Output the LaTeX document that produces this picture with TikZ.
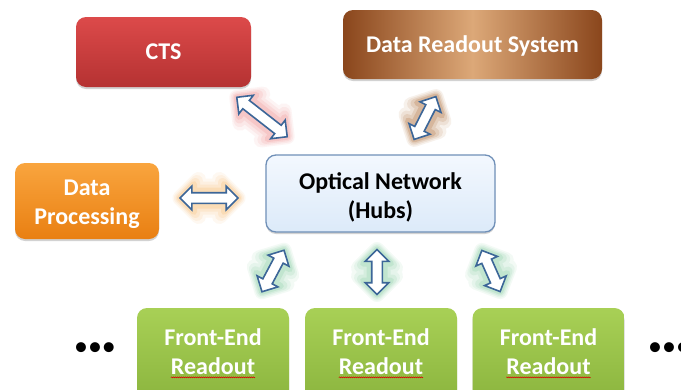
\documentclass[tikz,border=0pt]{standalone}
\usepackage{fontspec}
\setmainfont{Carlito}
\usetikzlibrary{shapes.arrows,shadows,decorations.pathmorphing}

\definecolor{ctsTop}{HTML}{DC4A4A}
\definecolor{ctsBot}{HTML}{B53232}
\definecolor{drsEdge}{HTML}{8A461C}
\definecolor{drsMid}{HTML}{DCA878}
\definecolor{dpTop}{HTML}{F9A53E}
\definecolor{dpBot}{HTML}{E97F12}
\definecolor{onTop}{HTML}{F3F8FE}
\definecolor{onBot}{HTML}{DCEAF9}
\definecolor{onLine}{HTML}{7090B8}
\definecolor{feTop}{HTML}{A8D056}
\definecolor{feBot}{HTML}{86B03A}
\definecolor{arrLine}{HTML}{3C6698}
\definecolor{glowRed}{HTML}{EE8A8A}
\definecolor{glowBrown}{HTML}{A8642C}
\definecolor{glowOrange}{HTML}{F7B565}
\definecolor{glowGreen}{HTML}{7CCB9A}

\tikzset{
  box/.style={rounded corners=10pt, inner sep=0pt, align=center, text=white,
    drop shadow={opacity=0.35, shadow xshift=0pt, shadow yshift=-2pt}},
  arrowshape/.style={double arrow, inner xsep=0pt, inner ysep=4.5pt,
    double arrow head extend=6.5pt, double arrow head indent=0pt, line join=round},
  darrow/.style={arrowshape, draw=arrLine, line width=1.6pt, fill=white, line join=miter},
  lbl/.style={inner sep=0pt, text=white, align=center},
}

% block double arrow with a soft glow behind it
% #1 name, #2 centre, #3 angle, #4 length, #5 glow colour
\newcommand\glowarrow[5]{%
  \foreach \w/\o in {15/0.09, 12/0.11, 9/0.15, 6/0.22}{%
    \node[arrowshape, rotate=#3, minimum height=#4, draw=#5,
          line width=\w pt, draw opacity=\o] (#1g\w) at #2 {};
  }%
  \node[darrow, rotate=#3, minimum height=#4] (#1) at #2 {};
}

\begin{document}
\begin{tikzpicture}[x=1pt, y=-1pt, font=\bfseries\fontsize{24}{29}\selectfont]
\useasboundingbox (0,0) rectangle (681,389);
\clip (0,0) rectangle (681,389);
\fill[white] (0,0) rectangle (681,389);

% top row
\node[box, minimum width=175pt, minimum height=70pt,
      top color=ctsTop, bottom color=ctsBot] (cts) at (163.5,52) {};
\node[lbl] (ctst) at (163.5,52) {CTS};
\node[box, minimum width=259pt, minimum height=69pt,
      left color=drsEdge, right color=drsEdge, middle color=drsMid] (drs) at (472.5,44.5) {};
\node[lbl] (drst) at (472.5,45.5) {Data Readout System};

% middle row
\node[box, minimum width=144pt, minimum height=76pt,
      top color=dpTop, bottom color=dpBot] (dp) at (87,201) {};
\node[lbl] (dpt) at (87,204) {Data\\Processing};
\node[box, minimum width=229pt, minimum height=77pt,
      top color=onTop, bottom color=onBot, draw=onLine, line width=1.3pt] (on) at (380.5,193.5) {};
\node[lbl, text=black] (ont) at (380.5,197) {Optical Network\\(Hubs)};

% front-end row
\foreach \i/\x in {1/213, 2/381, 3/548.5}{
  \node[box, minimum width=152pt, minimum height=110pt,
        top color=feTop, bottom color=feBot] (fe\i) at (\x,363) {};
  \node[lbl] (fe\i a) at (\x,337) {Front-End};
  \node[lbl] (fe\i b) at (\x,366) {Readout};
  \draw[red!85!black, line width=0.5pt,
        decorate, decoration={snake, amplitude=0.5pt, segment length=2pt}]
    ([yshift=-3pt]fe\i b.base west) -- ([yshift=-3pt]fe\i b.base east);
}

% ellipses at the ends of the front-end row
\node[inner sep=0pt, font=\fontsize{28}{28}\selectfont, text=black] (dotsL) at (95,349) {•••};
\node[inner sep=0pt, anchor=west, font=\fontsize{28}{28}\selectfont, text=black] (dotsR) at (648,349) {•••};

% connections
\glowarrow{aCTS}{(262,117)}{-38}{64}{glowRed}
\glowarrow{aDRS}{(425,118)}{63}{48}{glowBrown}
\glowarrow{aDP}{(209,198)}{0}{58}{glowOrange}
\glowarrow{aFE1}{(273,271)}{62}{47}{glowGreen}
\glowarrow{aFE2}{(377,272)}{90}{45}{glowGreen}
\glowarrow{aFE3}{(491,271)}{114}{45}{glowGreen}
\end{tikzpicture}
\end{document}
